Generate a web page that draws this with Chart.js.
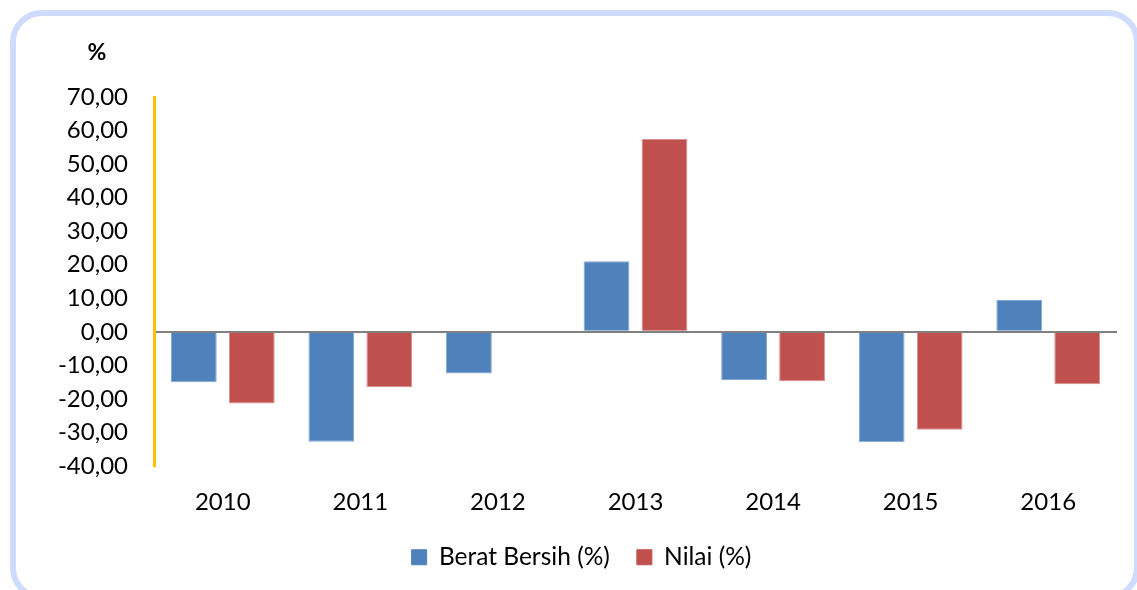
<!DOCTYPE html>
<html>
<head>
<meta charset="utf-8">
<script src="https://cdn.jsdelivr.net/npm/chart.js@4.4.1/dist/chart.umd.min.js"></script>
<style>
  body { margin: 0; background: #fff; }
  #wrap { position: relative; width: 1137px; height: 590px; overflow: hidden; }
  #frame {
    position: absolute; left: 10px; top: 10px; width: 1130px; height: 590px;
    box-sizing: border-box; border: 6px solid #cfdbfc; border-radius: 32px;
  }
  #box { position: absolute; left: 0; top: 0; width: 1137px; height: 590px; }
</style>
</head>
<body>
<div id="wrap">
  <div id="frame"></div>
  <div id="box"><canvas id="chart"></canvas></div>
</div>
<script>
var years = ['2010', '2011', '2012', '2013', '2014', '2015', '2016'];
var beratBersih = [-15.0, -32.8, -12.4, 21.0, -14.4, -32.9, 9.5];
var nilai = [-21.4, -16.5, null, 57.5, -14.7, -29.2, -15.6];
var yTicks = [-40, -30, -20, -10, 0, 10, 20, 30, 40, 50, 60, 70];

var fontFamily = 'Lato, "Open Sans", sans-serif';

// "%" label above the y axis
var percentLabel = {
  id: 'percentLabel',
  afterDraw: function(chart) {
    var ctx = chart.ctx;
    var area = chart.chartArea;
    ctx.save();
    ctx.font = 'bold 23px ' + fontFamily;
    ctx.fillStyle = '#000';
    ctx.textAlign = 'center';
    ctx.textBaseline = 'middle';
    ctx.fillText('%', area.left - 57, area.top - 44);
    ctx.restore();
  }
};

var ctx = document.getElementById('chart').getContext('2d');
var chart = new Chart(ctx, {
  type: 'bar',
  data: {
    labels: years,
    datasets: [{
      label: 'Berat Bersih (%)',
      data: beratBersih,
      backgroundColor: '#4f81bd',
      borderColor: '#86a7d4',
      borderWidth: 1,
      barPercentage: 0.79,
      categoryPercentage: 0.843
    }, {
      label: 'Nilai (%)',
      data: nilai,
      backgroundColor: '#c0504d',
      borderColor: '#d8908e',
      borderWidth: 1,
      barPercentage: 0.79,
      categoryPercentage: 0.843
    }]
  },
  options: {
    responsive: true,
    maintainAspectRatio: false,
    animation: false,
    layout: { padding: { top: 97, left: 46, right: 20, bottom: 10.5 } },
    plugins: {
      title: { display: false },
      tooltip: { enabled: false },
      legend: {
        position: 'bottom',
        labels: {
          boxWidth: 15,
          boxHeight: 15,
          padding: 27,
          color: '#000',
          font: { family: fontFamily, size: 24.5 },
          generateLabels: function(chart) {
            return Chart.defaults.plugins.legend.labels.generateLabels(chart).map(function(item) {
              item.strokeStyle = item.fillStyle;
              return item;
            });
          }
        }
      }
    },
    scales: {
      x: {
        grid: { display: false },
        border: { display: false },
        ticks: { color: '#000', padding: 14, font: { family: fontFamily, size: 24 } },
        afterFit: function(scale) { scale.height = 52; }
      },
      y: {
        min: -40,
        max: 70,
        afterBuildTicks: function(scale) {
          scale.ticks = yTicks.map(function(v) { return { value: v }; });
        },
        afterFit: function(scale) { scale.width = 108; },
        grid: {
          drawTicks: false,
          lineWidth: 2,
          color: function(c) { return c.tick && c.tick.value === 0 ? '#808080' : 'rgba(0,0,0,0)'; }
        },
        border: { display: true, color: '#ffc000', width: 3 },
        ticks: {
          color: '#000',
          padding: 26,
          font: { family: fontFamily, size: 24 },
          callback: function(value) { return value.toFixed(2).replace('.', ','); }
        }
      }
    }
  },
  plugins: [percentLabel]
});
</script>
</body>
</html>
